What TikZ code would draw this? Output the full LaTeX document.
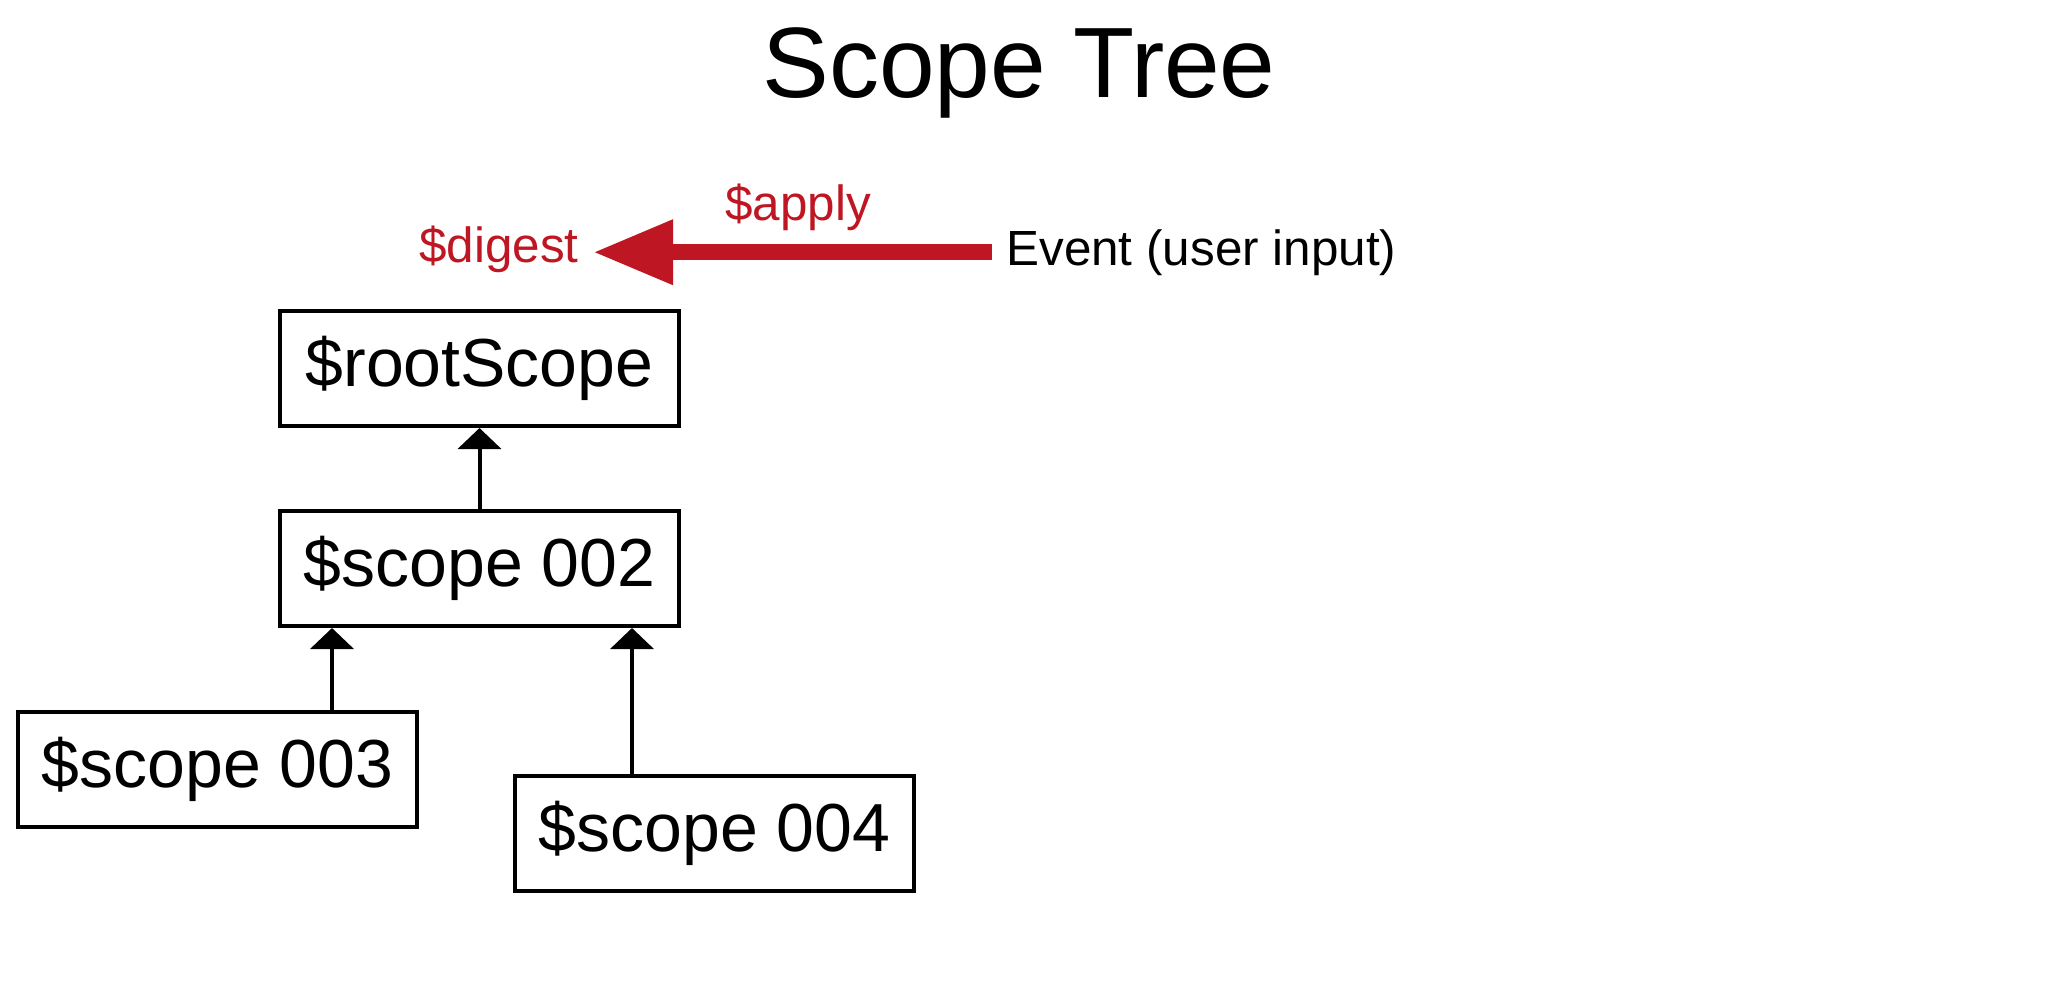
\documentclass[tikz,border=0pt]{standalone}
\usepackage{fontspec}
\setmainfont{Liberation Sans}
\usetikzlibrary{arrows.meta}
\definecolor{evred}{RGB}{190,22,34}
\tikzset{
  scopebox/.style={draw=black, line width=2pt, rectangle, minimum width=199.5pt, minimum height=57.5pt, inner sep=0pt, font=\fontsize{34}{40}\selectfont},
  parentlink/.style={line width=2pt, -{Triangle[length=10.5pt,width=21.5pt]}},
  eventarrow/.style={evred, line width=8pt, -{Triangle[length=40pt,width=30.5pt]}},
  redlabel/.style={text=evred, font=\fontsize{24.7}{30}\selectfont},
  blacklabel/.style={text=black, font=\fontsize{24.7}{30}\selectfont}
}
\begin{document}
\begin{tikzpicture}[x=0.5pt, y=-0.5pt]
\useasboundingbox (0,0) rectangle (2072,991);
\node[anchor=base, font=\fontsize{50}{60}\selectfont] (title) at (1019,97) {Scope Tree};

\node[scopebox] (root) at (479.5,368.5) {\$rootScope};
\node[scopebox] (s2) at (479.5,568.5) {\$scope 002};
\node[scopebox] (s3) at (217.5,769) {\$scope 003};
\node[scopebox] (s4) at (714.5,833) {\$scope 004};

\coordinate (x3) at (332,0);
\coordinate (x4) at (632,0);
\draw[parentlink] (s2.north) -- (root.south);
\draw[parentlink] (s3.north -| x3) -- (s2.south -| x3);
\draw[parentlink] (s4.north -| x4) -- (s2.south -| x4);

\node[blacklabel, anchor=base west, inner xsep=7pt, inner ysep=0pt] (ev) at (992,265) {Event (user input)};
\node[redlabel, anchor=base east, inner xsep=7pt, inner ysep=0pt] (dg) at (593,262) {\$digest};
\node[redlabel, anchor=base west, inner sep=0pt] (ap) at (725,220) {\$apply};
\draw[eventarrow] (ev.west) -- (ev.west -| dg.east);
\end{tikzpicture}
\end{document}
